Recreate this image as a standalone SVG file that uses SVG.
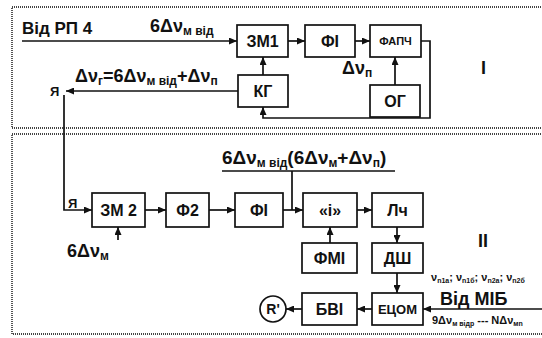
<svg xmlns="http://www.w3.org/2000/svg" width="542" height="338" viewBox="0 0 542 338">
<defs>
<marker id="a" markerUnits="userSpaceOnUse" markerWidth="8" markerHeight="7" refX="8" refY="3.5" orient="auto">
<path d="M0,0 L8,3.5 L0,7 z" fill="#111"/>
</marker>
<style>
.frame{fill:none;stroke:#444;stroke-width:1.8;stroke-dasharray:1 1}
.box{fill:#fff;stroke:#111;stroke-width:1.7}
.lbl{font-family:"Liberation Sans",Arial,sans-serif;font-weight:bold;font-size:16px;text-anchor:middle;fill:#111}
.t{font-family:"Liberation Sans",Arial,sans-serif;font-weight:bold;fill:#111}
.ln{fill:none;stroke:#111;stroke-width:1.7;marker-end:url(#a)}
.pl{fill:none;stroke:#111;stroke-width:1.7}
</style>
</defs>
<rect class="frame" x="12" y="7" width="540" height="121"/>
<rect class="frame" x="12" y="134" width="540" height="200"/>

<g id="connectors">
<path class="ln" d="M22,41 H237"/>
<path class="ln" d="M288,41 H305"/>
<path class="ln" d="M355,41 H370"/>
<path class="ln" d="M421,41 H430 V118 H263 V107"/>
<path class="ln" d="M395,85 V57"/>
<path class="ln" d="M263,75 V57"/>
<path class="ln" d="M238,91 H66"/>
<path class="ln" d="M64,95 V210 H92"/>
<path class="ln" d="M145,210 H166"/>
<path class="ln" d="M209,210 H235"/>
<path class="ln" d="M283,210 H303"/>
<path class="pl" d="M222,171 H395 M292,171 V210"/>
<path class="ln" d="M357,210 H372"/>
<path class="ln" d="M397,227 V243"/>
<path class="ln" d="M330,243 V227"/>
<path class="ln" d="M397,273 V293"/>
<path class="ln" d="M372,309 H357"/>
<path class="ln" d="M302,309 H286"/>
<path class="ln" d="M542,309 H423"/>
<path class="ln" d="M118,240 V227"/>
</g>

<g id="ZM1"><rect class="box" x="237" y="25" width="51" height="32"/><text class="lbl" x="262.5" y="47">ЗМ1</text></g>
<g id="FI1"><rect class="box" x="305" y="25" width="50" height="32"/><text class="lbl" x="330" y="47">ФІ</text></g>
<g id="FAPCH"><rect class="box" x="370" y="25" width="51" height="32"/><text class="lbl" x="395.5" y="45" style="font-size:11px">ФАПЧ</text></g>
<g id="KG"><rect class="box" x="238" y="75" width="50" height="32"/><text class="lbl" x="263" y="97">КГ</text></g>
<g id="OG"><rect class="box" x="370" y="85" width="50" height="32"/><text class="lbl" x="395" y="107">ОГ</text></g>

<g id="ZM2"><rect class="box" x="92" y="193" width="53" height="34"/><text class="lbl" x="118.5" y="216">ЗМ 2</text></g>
<g id="F2"><rect class="box" x="166" y="193" width="43" height="34"/><text class="lbl" x="187.5" y="216">Ф2</text></g>
<g id="FI2"><rect class="box" x="235" y="193" width="48" height="34"/><text class="lbl" x="259" y="216">ФІ</text></g>
<g id="I"><rect class="box" x="303" y="193" width="54" height="34"/><text class="lbl" x="330" y="216">«і»</text></g>
<g id="LCH"><rect class="box" x="372" y="193" width="51" height="34"/><text class="lbl" x="397.5" y="216">Лч</text></g>
<g id="FMI"><rect class="box" x="302" y="243" width="55" height="30"/><text class="lbl" x="329.5" y="264">ФМІ</text></g>
<g id="DSH"><rect class="box" x="372" y="243" width="51" height="30"/><text class="lbl" x="397.5" y="264">ДШ</text></g>
<g id="ECOM"><rect class="box" x="372" y="293" width="51" height="32"/><text class="lbl" x="397.5" y="314" style="font-size:13px">ЕЦОМ</text></g>
<g id="BVI"><rect class="box" x="302" y="293" width="55" height="32"/><text class="lbl" x="329.5" y="315">БВІ</text></g>
<g id="R"><circle class="box" cx="273" cy="309" r="13"/><text class="lbl" x="273" y="314" style="font-size:14px">R'</text></g>

<g id="labels">
<text class="t" x="22" y="34" font-size="17">Від РП 4</text>
<text class="t" x="150" y="32" font-size="18">6Δν<tspan font-size="12" dy="3">м від</tspan></text>
<text class="t" x="75" y="82" font-size="18">Δν<tspan font-size="12" dy="3">г</tspan><tspan dy="-3">=6Δν</tspan><tspan font-size="12" dy="3">м від</tspan><tspan dy="-3">+Δν</tspan><tspan font-size="12" dy="3">п</tspan></text>
<text class="t" x="50" y="96" font-size="13">Я</text>
<text class="t" x="68" y="208" font-size="13">Я</text>
<text class="t" x="342" y="74" font-size="18">Δν<tspan font-size="12" dy="3">п</tspan></text>
<text class="t" x="481" y="74" font-size="18">I</text>
<text class="t" x="478" y="247" font-size="18">II</text>
<text class="t" x="67" y="257" font-size="18">6Δν<tspan font-size="12" dy="3">м</tspan></text>
<text class="t" x="222" y="164" font-size="19">6Δν<tspan font-size="12" dy="3">м від</tspan><tspan dy="-3">(6Δν</tspan><tspan font-size="12" dy="3">м</tspan><tspan dy="-3">+Δν</tspan><tspan font-size="12" dy="3">п</tspan><tspan dy="-3">)</tspan></text>
<text class="t" x="440" y="305" font-size="18">Від МІБ</text>
<text class="t" x="431" y="281" font-size="11">ν<tspan font-size="7" dy="2">n1a</tspan><tspan dy="-2">; ν</tspan><tspan font-size="7" dy="2">n1б</tspan><tspan dy="-2">; ν</tspan><tspan font-size="7" dy="2">n2a</tspan><tspan dy="-2">; ν</tspan><tspan font-size="7" dy="2">n2б</tspan></text>
<text class="t" x="432" y="324" font-size="11">9Δν<tspan font-size="7" dy="2">м відр</tspan><tspan dy="-2"> --- NΔν</tspan><tspan font-size="7" dy="2">мn</tspan></text>
</g>
</svg>
